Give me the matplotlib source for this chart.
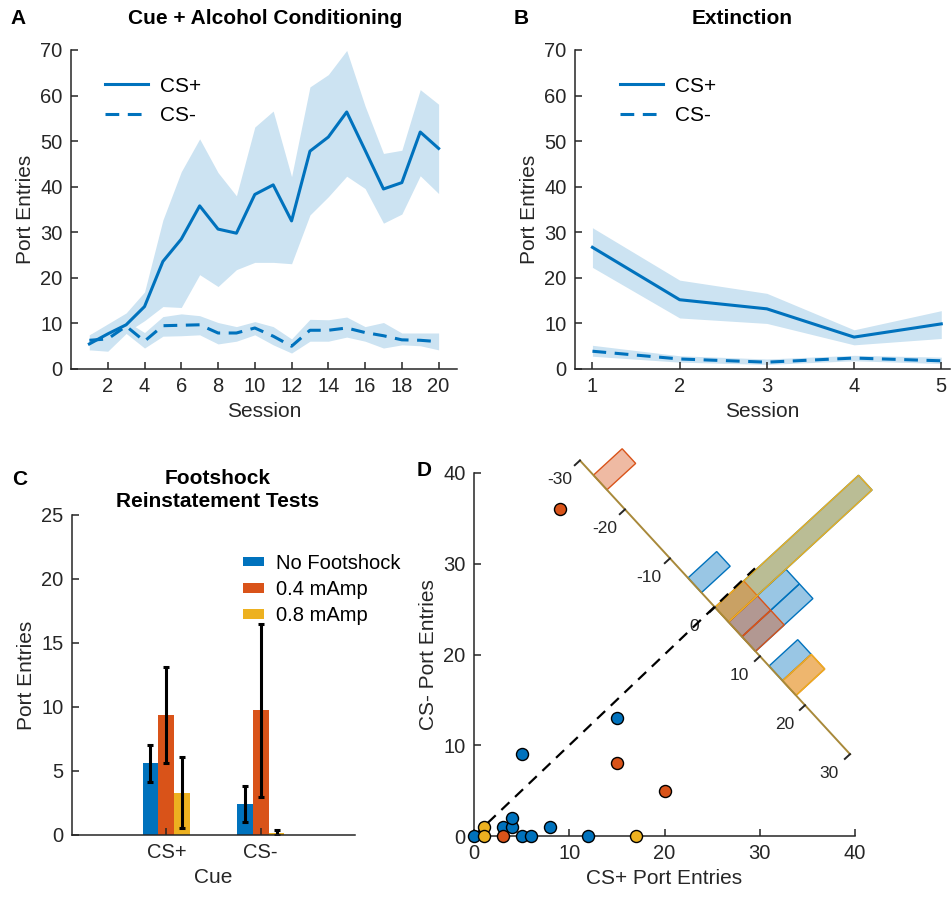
import numpy as np
import matplotlib
matplotlib.use("Agg")
import matplotlib.pyplot as plt
from matplotlib.patches import Rectangle
from matplotlib.lines import Line2D
from matplotlib.transforms import Affine2D, ScaledTranslation

# ---- data ----
# A: conditioning
sessions_a = [1, 2, 3, 4, 5, 6, 7, 8, 9, 10, 11, 12, 13, 14, 15, 16, 17, 18, 19, 20]
csp_mean_a = [5.5, 7.7, 9.7, 13.7, 23.6, 28.5, 35.8, 30.7, 29.8, 38.3, 40.4, 32.5, 47.8, 50.9, 56.4, 48.0, 39.5, 40.9, 52.0, 48.4]
csp_hi_a = [7.5, 9.9, 12.3, 16.9, 32.7, 43.3, 50.5, 43.1, 38.0, 53.1, 56.6, 42.2, 61.9, 64.6, 69.9, 57.7, 47.3, 48.0, 61.3, 58.1]
csp_lo_a = [4.2, 5.8, 8.0, 10.6, 13.7, 13.5, 20.7, 18.1, 21.8, 23.4, 23.4, 23.1, 33.8, 37.8, 42.3, 39.6, 32.0, 34.0, 42.4, 38.5]
csm_mean_a = [6.3, 6.6, 9.4, 6.1, 9.5, 9.6, 9.7, 7.9, 7.9, 9.0, 7.2, 5.0, 8.5, 8.5, 9.0, 8.0, 7.3, 6.4, 6.3, 6.0]
csm_hi_a = [7.5, 9.0, 10.5, 8.0, 11.5, 12.1, 11.7, 10.2, 9.3, 10.4, 9.3, 6.6, 10.9, 10.8, 11.4, 9.3, 10.2, 7.9, 7.9, 7.9]
csm_lo_a = [4.2, 3.9, 7.8, 4.6, 7.2, 7.3, 7.5, 5.5, 6.1, 7.5, 5.3, 3.5, 6.1, 6.1, 7.0, 6.1, 4.6, 5.3, 5.1, 4.2]

# B: extinction
sessions_b = [1, 2, 3, 4, 5]
csp_mean_b = [26.7, 15.2, 13.2, 7.0, 9.9]
csp_hi_b = [31.0, 19.5, 16.6, 8.6, 12.8]
csp_lo_b = [22.3, 11.2, 10.0, 5.3, 6.7]
csm_mean_b = [3.9, 2.2, 1.5, 2.4, 1.8]
csm_hi_b = [5.2, 2.9, 2.2, 3.0, 2.6]
csm_lo_b = [2.8, 1.5, 1.0, 1.8, 1.2]

# C: reinstatement tests
cues = ["CS+", "CS-"]
groups = ["No Footshock", "0.4 mAmp", "0.8 mAmp"]
mean_nofs = [5.6, 2.42]
mean_04 = [9.35, 9.74]
mean_08 = [3.3, 0.18]
sem_nofs = [1.45, 1.4]
sem_04 = [3.75, 6.75]
sem_08 = [2.77, 0.18]

# D: CS+ vs CS- per rat
nofs_x = [0, 3, 4, 4, 5, 5, 6, 8, 12, 15]
nofs_y = [0, 1, 1, 2, 0, 9, 0, 1, 0, 13]
ma04_x = [3, 9, 15, 20]
ma04_y = [0, 36, 8, 5]
ma08_x = [1, 1, 17]
ma08_y = [1, 0, 0]

# D: histogram of CS+ minus CS- (bin left edges and counts)
bin_w = 3
hist_left_nofs = [-6, 0, 3, 6, 12]
hist_n_nofs = [1, 5, 2, 2, 1]
hist_left_04 = [-27, 0, 3, 6, 15]
hist_n_04 = [1, 1, 1, 1, 1]
hist_left_08 = [0, 15]
hist_n_08 = [5, 1]
diff_ticks = [-30, -20, -10, 0, 10, 20, 30]

# ---- style ----
blue = "#0072BD"
red = "#D95319"
yellow = "#EDB120"
band = (0.8, 0.889, 0.948)
dark = "#262626"

plt.rcParams["font.family"] = ["Liberation Sans", "DejaVu Sans"]
plt.rcParams["axes.edgecolor"] = dark
plt.rcParams["axes.linewidth"] = 1.1
plt.rcParams["xtick.color"] = dark
plt.rcParams["ytick.color"] = dark
plt.rcParams["xtick.direction"] = "in"
plt.rcParams["ytick.direction"] = "in"
plt.rcParams["xtick.major.size"] = 5
plt.rcParams["ytick.major.size"] = 5
plt.rcParams["xtick.major.width"] = 1.1
plt.rcParams["ytick.major.width"] = 1.1
plt.rcParams["font.size"] = 14.5
plt.rcParams["axes.labelcolor"] = dark

fig = plt.figure(figsize=(9.52, 9.0), dpi=100)

W, H = 952.0, 900.0
def px_axes(l, t, r, b):
    return fig.add_axes([l / W, 1 - b / H, (r - l) / W, (b - t) / H])

def clean(ax):
    ax.spines["top"].set_visible(False)
    ax.spines["right"].set_visible(False)
    ax.tick_params(labelsize=14.5, pad=6)

# ---- A ----
axa = px_axes(71, 50, 457, 369)
axa.fill_between(sessions_a, csp_lo_a, csp_hi_a, color=band, lw=0)
axa.fill_between(sessions_a, csm_lo_a, csm_hi_a, color=band, lw=0)
axa.plot(sessions_a, csp_mean_a, color=blue, lw=2.2, label="CS+")
axa.plot(sessions_a, csm_mean_a, color=blue, lw=2.2, ls=(0, (4.5, 2.8)), label="CS-")
axa.set_xlim(0, 21)
axa.set_ylim(0, 70)
axa.set_xticks([2, 4, 6, 8, 10, 12, 14, 16, 18, 20])
axa.set_yticks([0, 10, 20, 30, 40, 50, 60, 70])
axa.set_xlabel("Session", fontsize=15)
axa.set_ylabel("Port Entries", fontsize=15)
axa.legend(loc="upper left", bbox_to_anchor=(0.04, 0.975), frameon=False,
           handlelength=2.05, handletextpad=0.6, labelspacing=0.5, fontsize=15)
clean(axa)

# ---- B ----
axb = px_axes(575, 50, 950, 369)
axb.fill_between(sessions_b, csp_lo_b, csp_hi_b, color=band, lw=0)
axb.fill_between(sessions_b, csm_lo_b, csm_hi_b, color=band, lw=0)
axb.plot(sessions_b, csp_mean_b, color=blue, lw=2.2, label="CS+")
axb.plot(sessions_b, csm_mean_b, color=blue, lw=2.2, ls=(0, (4.5, 2.8)), label="CS-")
axb.set_xlim(0.8, 5.1)
axb.set_ylim(0, 70)
axb.set_xticks(sessions_b)
axb.set_yticks([0, 10, 20, 30, 40, 50, 60, 70])
axb.set_xlabel("Session", fontsize=15)
axb.set_ylabel("Port Entries", fontsize=15)
axb.legend(loc="upper left", bbox_to_anchor=(0.07, 0.975), frameon=False,
           handlelength=2.05, handletextpad=0.6, labelspacing=0.5, fontsize=15)
clean(axb)

# ---- C ----
axc = px_axes(72, 515, 355, 835)
xc = np.arange(len(cues)) + 1
bw = 0.168
for off, m, e, c, g in [(-bw, mean_nofs, sem_nofs, blue, groups[0]),
                        (0, mean_04, sem_04, red, groups[1]),
                        (bw, mean_08, sem_08, yellow, groups[2])]:
    axc.bar(xc + off, m, width=bw, color=c, label=g)
    axc.errorbar(xc + off, m, yerr=e, fmt="none", ecolor="black", elinewidth=2.2,
                 capsize=2, capthick=2.2)
axc.set_xlim(0, 3)
axc.set_ylim(0, 25)
axc.set_xticks(xc)
axc.set_xticklabels(cues)
axc.set_yticks([0, 5, 10, 15, 20, 25])
axc.set_xlabel("Cue", fontsize=15)
axc.set_ylabel("Port Entries", fontsize=15)
axc.legend(loc="upper left", bbox_to_anchor=(0.54, 0.935), frameon=False,
           handlelength=1.05, handleheight=0.35, handletextpad=0.6,
           labelspacing=0.35, fontsize=14.5)
clean(axc)

# ---- D ----
axd = px_axes(474, 473, 855, 836)
axd.set_xlim(0, 40)
axd.set_ylim(0, 40)
axd.set_xticks([0, 10, 20, 30, 40])
axd.set_yticks([0, 10, 20, 30, 40])
axd.set_xlabel("CS+ Port Entries", fontsize=15)
axd.set_ylabel("CS- Port Entries", fontsize=15)
clean(axd)

# rotated histogram of CS+ minus CS-, centred on the diagonal
px = 1 / 100.0
hist_tr = (Affine2D().scale(6.65 * px, 39 * px).rotate_deg(-47.4)
           + fig.dpi_scale_trans
           + ScaledTranslation(25.3, 25.2, axd.transData))

for lefts, ns, c in [(hist_left_nofs, hist_n_nofs, blue),
                     (hist_left_04, hist_n_04, red),
                     (hist_left_08, hist_n_08, yellow)]:
    rgb = matplotlib.colors.to_rgb(c)
    for l, n in zip(lefts, ns):
        axd.add_patch(Rectangle((l, 0), bin_w, n, transform=hist_tr,
                                facecolor=rgb + (0.4,), edgecolor=c, lw=1.0,
                                clip_on=False, zorder=3))

axd.add_line(Line2D([diff_ticks[0], diff_ticks[-1]], [0, 0], transform=hist_tr,
                    color="#A8893A", lw=1.4, clip_on=False, zorder=4))
for t in diff_ticks:
    axd.add_line(Line2D([t, t], [0, -0.18], transform=hist_tr, color=dark,
                        lw=1.4, clip_on=False, zorder=4))
    axd.text(t, -0.72, str(t), transform=hist_tr, ha="center", va="center",
             fontsize=12.5, color=dark, clip_on=False)

axd.plot([0, 29.5], [0, 29.5], color="black", lw=1.6, ls=(0, (5, 3.5)),
         zorder=5, clip_on=False)

for xs, ys, c in [(nofs_x, nofs_y, blue), (ma04_x, ma04_y, red), (ma08_x, ma08_y, yellow)]:
    axd.scatter(xs, ys, s=75, color=c, edgecolor="black", lw=1.0, zorder=6, clip_on=False)

# ---- titles and panel letters ----
fig.text(265 / W, 1 - 18 / H, "Cue + Alcohol Conditioning", ha="center", va="center",
         fontsize=15, fontweight="bold")
fig.text(742 / W, 1 - 18 / H, "Extinction", ha="center", va="center",
         fontsize=15, fontweight="bold")
fig.text(218 / W, 1 - 490 / H, "Footshock\nReinstatement Tests", ha="center", va="center",
         fontsize=15, fontweight="bold", linespacing=1.25)
for lab, x, y in [("A", 18, 18), ("B", 521, 18), ("C", 20, 479), ("D", 424, 470)]:
    fig.text(x / W, 1 - y / H, lab, ha="center", va="center", fontsize=15, fontweight="bold")

fig.savefig("out.png", dpi=100)
